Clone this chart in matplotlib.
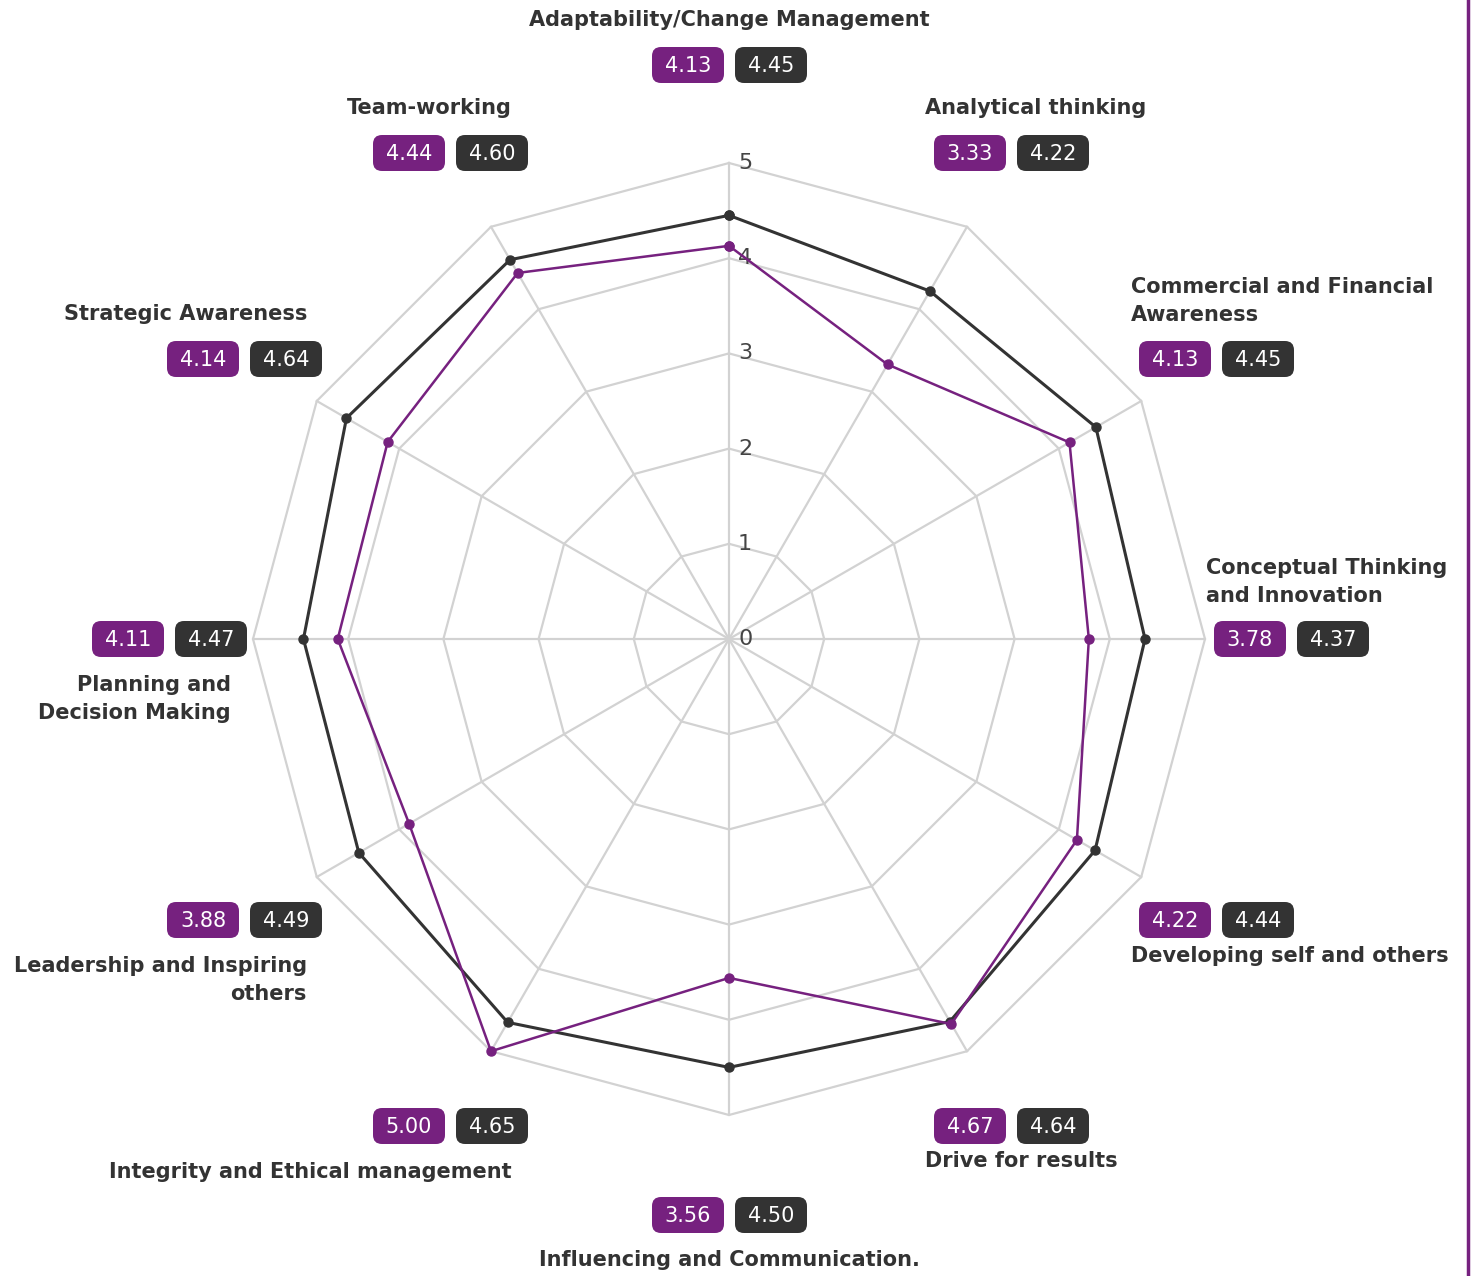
import numpy as np
import matplotlib
matplotlib.use("Agg")
import matplotlib.pyplot as plt
from matplotlib.patches import FancyBboxPatch

# data
categories = [
    "Adaptability/Change Management",
    "Analytical thinking",
    "Commercial and Financial\nAwareness",
    "Conceptual Thinking\nand Innovation",
    "Developing self and others",
    "Drive for results",
    "Influencing and Communication.",
    "Integrity and Ethical management",
    "Leadership and Inspiring\nothers",
    "Planning and\nDecision Making",
    "Strategic Awareness",
    "Team-working",
]
self_scores = [4.13, 3.33, 4.13, 3.78, 4.22, 4.67, 3.56, 5.00, 3.88, 4.11, 4.14, 4.44]
others_scores = [4.45, 4.22, 4.45, 4.37, 4.44, 4.64, 4.50, 4.65, 4.49, 4.47, 4.64, 4.60]
r_ticks = [0, 1, 2, 3, 4, 5]

PURPLE = "#76217f"
DARK = "#333333"
GRID = "#d2d2d2"

W, H = 1471, 1276
cx, cy, R = 729, 639, 476

# label layout: (x, y, ha) and badge left x / centre y, in pixels
label_pos = [
    (729, 20, "center"), (925, 108, "left"), (1131, 301, "left"), (1206, 582, "left"),
    (1131, 956, "left"), (925, 1161, "left"), (729, 1260, "center"), (512, 1172, "right"),
    (307, 980, "right"), (231, 699, "right"), (307, 314, "right"), (512, 108, "right"),
]
badge_pos = [
    (652, 65), (934, 153), (1139, 359), (1214, 639), (1139, 920), (934, 1126),
    (652, 1215), (373, 1126), (167, 920), (92, 639), (167, 359), (373, 153),
]

fig = plt.figure(figsize=(W / 100, H / 100), dpi=100)
bg = fig.add_axes([0, 0, 1, 1])
bg.set_xlim(0, W)
bg.set_ylim(H, 0)
bg.axis("off")

ax = fig.add_axes([(cx - R) / W, 1 - (cy + R) / H, 2 * R / W, 2 * R / H], projection="polar")
ax.set_theta_zero_location("N")
ax.set_theta_direction(-1)
ax.set_ylim(0, 5)
ax.axis("off")
ax.patch.set_alpha(0)

n = len(categories)
angles = np.linspace(0, 2 * np.pi, n, endpoint=False)
closed = np.append(angles, angles[0])

# polygon grid
for r in r_ticks[1:]:
    ax.plot(closed, [r] * (n + 1), color=GRID, lw=1.6, zorder=1, clip_on=False)
for a in angles:
    ax.plot([a, a], [0, 5], color=GRID, lw=1.6, zorder=1, clip_on=False)
for r in r_ticks:
    ax.annotate(str(r), xy=(0, r), xytext=(9, 0), textcoords="offset pixels",
                ha="left", va="center", fontsize=16, color="#444444", zorder=2)

ax.plot(closed, np.append(others_scores, others_scores[0]), color=DARK, lw=2.2,
        marker="o", ms=6.5, zorder=3, clip_on=False)
ax.plot(closed, np.append(self_scores, self_scores[0]), color=PURPLE, lw=1.8,
        marker="o", ms=6.5, zorder=4, clip_on=False)


def badge(x, y, txt, color):
    bg.add_patch(FancyBboxPatch((x, y - 18), 72, 36,
                                boxstyle="round,pad=0,rounding_size=9",
                                fc=color, ec="none"))
    bg.text(x + 36, y + 1, txt, ha="center", va="center", color="white", fontsize=15)


for i, cat in enumerate(categories):
    lx, ly, ha = label_pos[i]
    bg.text(lx, ly, cat, ha=ha, va="center", multialignment=ha, fontsize=15,
            fontweight="bold", color=DARK, linespacing=1.45)
    bx, by = badge_pos[i]
    badge(bx, by, "%.2f" % self_scores[i], PURPLE)
    badge(bx + 83, by, "%.2f" % others_scores[i], DARK)

bg.axvline(1468, color=PURPLE, lw=2.5)

fig.savefig("out.png", dpi=100)
